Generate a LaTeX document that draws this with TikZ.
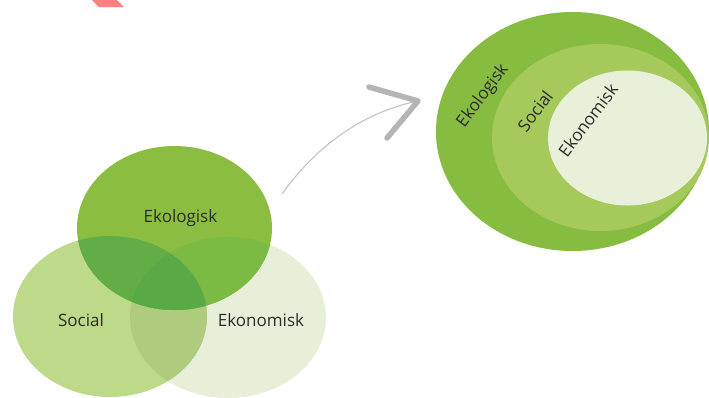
\documentclass[tikz,border=0pt]{standalone}
\usepackage{fontspec}
\setmainfont{Open Sans}
\definecolor{ekol}{HTML}{8BBE40}
\definecolor{soc}{HTML}{BDD98A}
\definecolor{ekon}{HTML}{E8EFD9}
\definecolor{ekolsoc}{HTML}{62AD46}
\definecolor{ekolekon}{HTML}{7BBA43}
\definecolor{triple}{HTML}{59AA46}
\definecolor{socekon}{HTML}{AFCB7D}
\definecolor{outerg}{HTML}{86BC40}
\definecolor{midg}{HTML}{A5C95A}
\definecolor{innerg}{HTML}{E9F0DA}
\definecolor{txt}{HTML}{2B2B2B}
\definecolor{arrowg}{HTML}{B5B5B5}
\definecolor{curveg}{HTML}{C4C4C4}
\definecolor{redmark}{HTML}{FF8080}
\tikzset{
  lbl/.style={text=txt, font=\fontsize{17}{19}\selectfont, inner sep=0pt},
  rlbl/.style={lbl, rotate=53},
}
\begin{document}
\begin{tikzpicture}[x=1pt,y=-1pt]
\useasboundingbox (0,0) rectangle (709,397);
\fill[white] (0,0) rectangle (709,397);
% red mark at top
\fill[redmark] (92,0) -- (117,0) -- (124,7) -- (99,7) -- cycle;
% Venn diagram
\def\ekolE{(174.5,228) ellipse [x radius=97.5, y radius=82]}
\def\socE{(110,316.5) ellipse [x radius=97, y radius=80.5]}
\def\ekonE{(228,317.5) ellipse [x radius=98, y radius=80.5]}
\fill[ekon] \ekonE;
\fill[soc] \socE;
\begin{scope}\clip \socE; \fill[socekon] \ekonE; \end{scope}
\fill[ekol] \ekolE;
\begin{scope}\clip \ekolE; \fill[ekolsoc] \socE; \end{scope}
\begin{scope}\clip \ekolE; \fill[ekolekon] \ekonE; \end{scope}
\begin{scope}\clip \ekolE; \clip \socE; \fill[triple] \ekonE; \end{scope}
\node[lbl] (vekol) at (180.5,218) {Ekologisk};
\node[lbl] (vsoc) at (81,320) {Social};
\node[lbl] (vekon) at (261,320) {Ekonomisk};
% nested ellipses
\fill[outerg] (572.5,131.5) ellipse [x radius=136.5, y radius=119.5];
\fill[midg] (600.5,137.5) ellipse [x radius=108.5, y radius=93.5];
\fill[innerg] (627.5,138) ellipse [x radius=79.5, y radius=67.5];
\node[rlbl] (nekol) at (483,96) {Ekologisk};
\node[rlbl] (nsoc) at (535,111) {Social};
\node[rlbl] (nekon) at (588,120) {Ekonomisk};
% arrow
\coordinate (astart) at (282,194);
\coordinate (aend) at (418,101);
\coordinate (atop) at (369,87);
\coordinate (abot) at (387,138);
\draw[curveg, line width=1.1pt] (astart) .. controls (315,148) and (360,113) .. (aend);
\draw[arrowg, line width=5.5pt, line cap=round, line join=round] (atop) -- (aend) -- (abot);
\end{tikzpicture}
\end{document}
